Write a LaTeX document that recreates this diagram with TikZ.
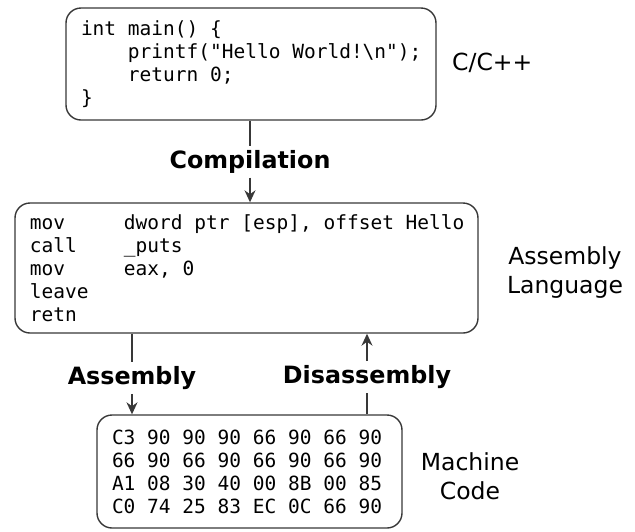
\documentclass[tikz,border=0pt]{standalone}
\usepackage{fontspec}
\setmainfont{DejaVu Sans}
\newfontfamily\codefont{DejaVu Sans Mono}
\usetikzlibrary{arrows.meta}
\definecolor{edge}{HTML}{383838}
\begin{document}
\begin{tikzpicture}[x=1pt,y=-1pt,
  codebox/.style={draw=edge, line width=1.4pt, rounded corners=15pt,
    align=left, inner ysep=0pt,
    font=\codefont\fontsize{19.5}{23}\selectfont,
    execute at begin node={\spaceskip=11.74pt\relax}},
  stagelabel/.style={font=\fontsize{23.5}{29}\selectfont, align=center, inner sep=0pt},
  steplabel/.style={font=\bfseries\fontsize{23.8}{28}\selectfont, inner xsep=0pt, inner ysep=4pt},
  flow/.style={draw=edge, line width=1.4pt},
  flowarrow/.style={flow, -{Stealth[length=12pt,width=11pt]}}]
\useasboundingbox (0,0) rectangle (635,531);

% source code
\node[codebox, minimum width=370pt, minimum height=112pt, text width=340pt, inner xsep=15pt]
  (src) at (251,64) {\mbox{int main() \{}\\
\mbox{\hspace*{46.96pt}printf("Hello World!\textbackslash n");}\\
\mbox{\hspace*{46.96pt}return 0;}\\
\}};
\node[stagelabel, anchor=west] (srclbl) at (452,63) {C/C++};

% assembly listing
\node[codebox, minimum width=463pt, minimum height=130pt, text width=433pt, inner xsep=15pt]
  (asm) at (246.5,268) {\mbox{\makebox[94pt][l]{mov}dword ptr [esp], offset Hello}\\
\mbox{\makebox[94pt][l]{call}\_puts}\\
\mbox{\makebox[94pt][l]{mov}eax, 0}\\
leave\\
retn};
\node[stagelabel] (asmlbl) at (565,272.5) {Assembly\\Language};

% machine code
\node[codebox, minimum width=305pt, minimum height=113pt, text width=275pt, inner xsep=15pt]
  (bin) at (249.5,471.5) {\mbox{C3 90 90 90 66 90 66 90}\\
\mbox{66 90 66 90 66 90 66 90}\\
\mbox{A1 08 30 40 00 8B 00 85}\\
\mbox{C0 74 25 83 EC 0C 66 90}};
\node[stagelabel] (binlbl) at (470,476) {Machine\\Code};

% translation steps
\node[steplabel] (comp) at (250,162) {Compilation};
\node[steplabel] (asmb) at (132,378) {Assembly};
\node[steplabel] (disasm) at (367,377) {Disassembly};

\draw[flow] (src.south -| comp) -- (comp.north);
\draw[flowarrow] (comp.south) -- (comp.south |- asm.north);

\draw[flow] (asm.south -| asmb) -- (asmb.north);
\draw[flowarrow] (asmb.south) -- (asmb.south |- bin.north);

\draw[flow] (bin.north -| disasm) -- (disasm.south);
\draw[flowarrow] (disasm.north) -- (disasm.north |- asm.south);
\end{tikzpicture}
\end{document}
